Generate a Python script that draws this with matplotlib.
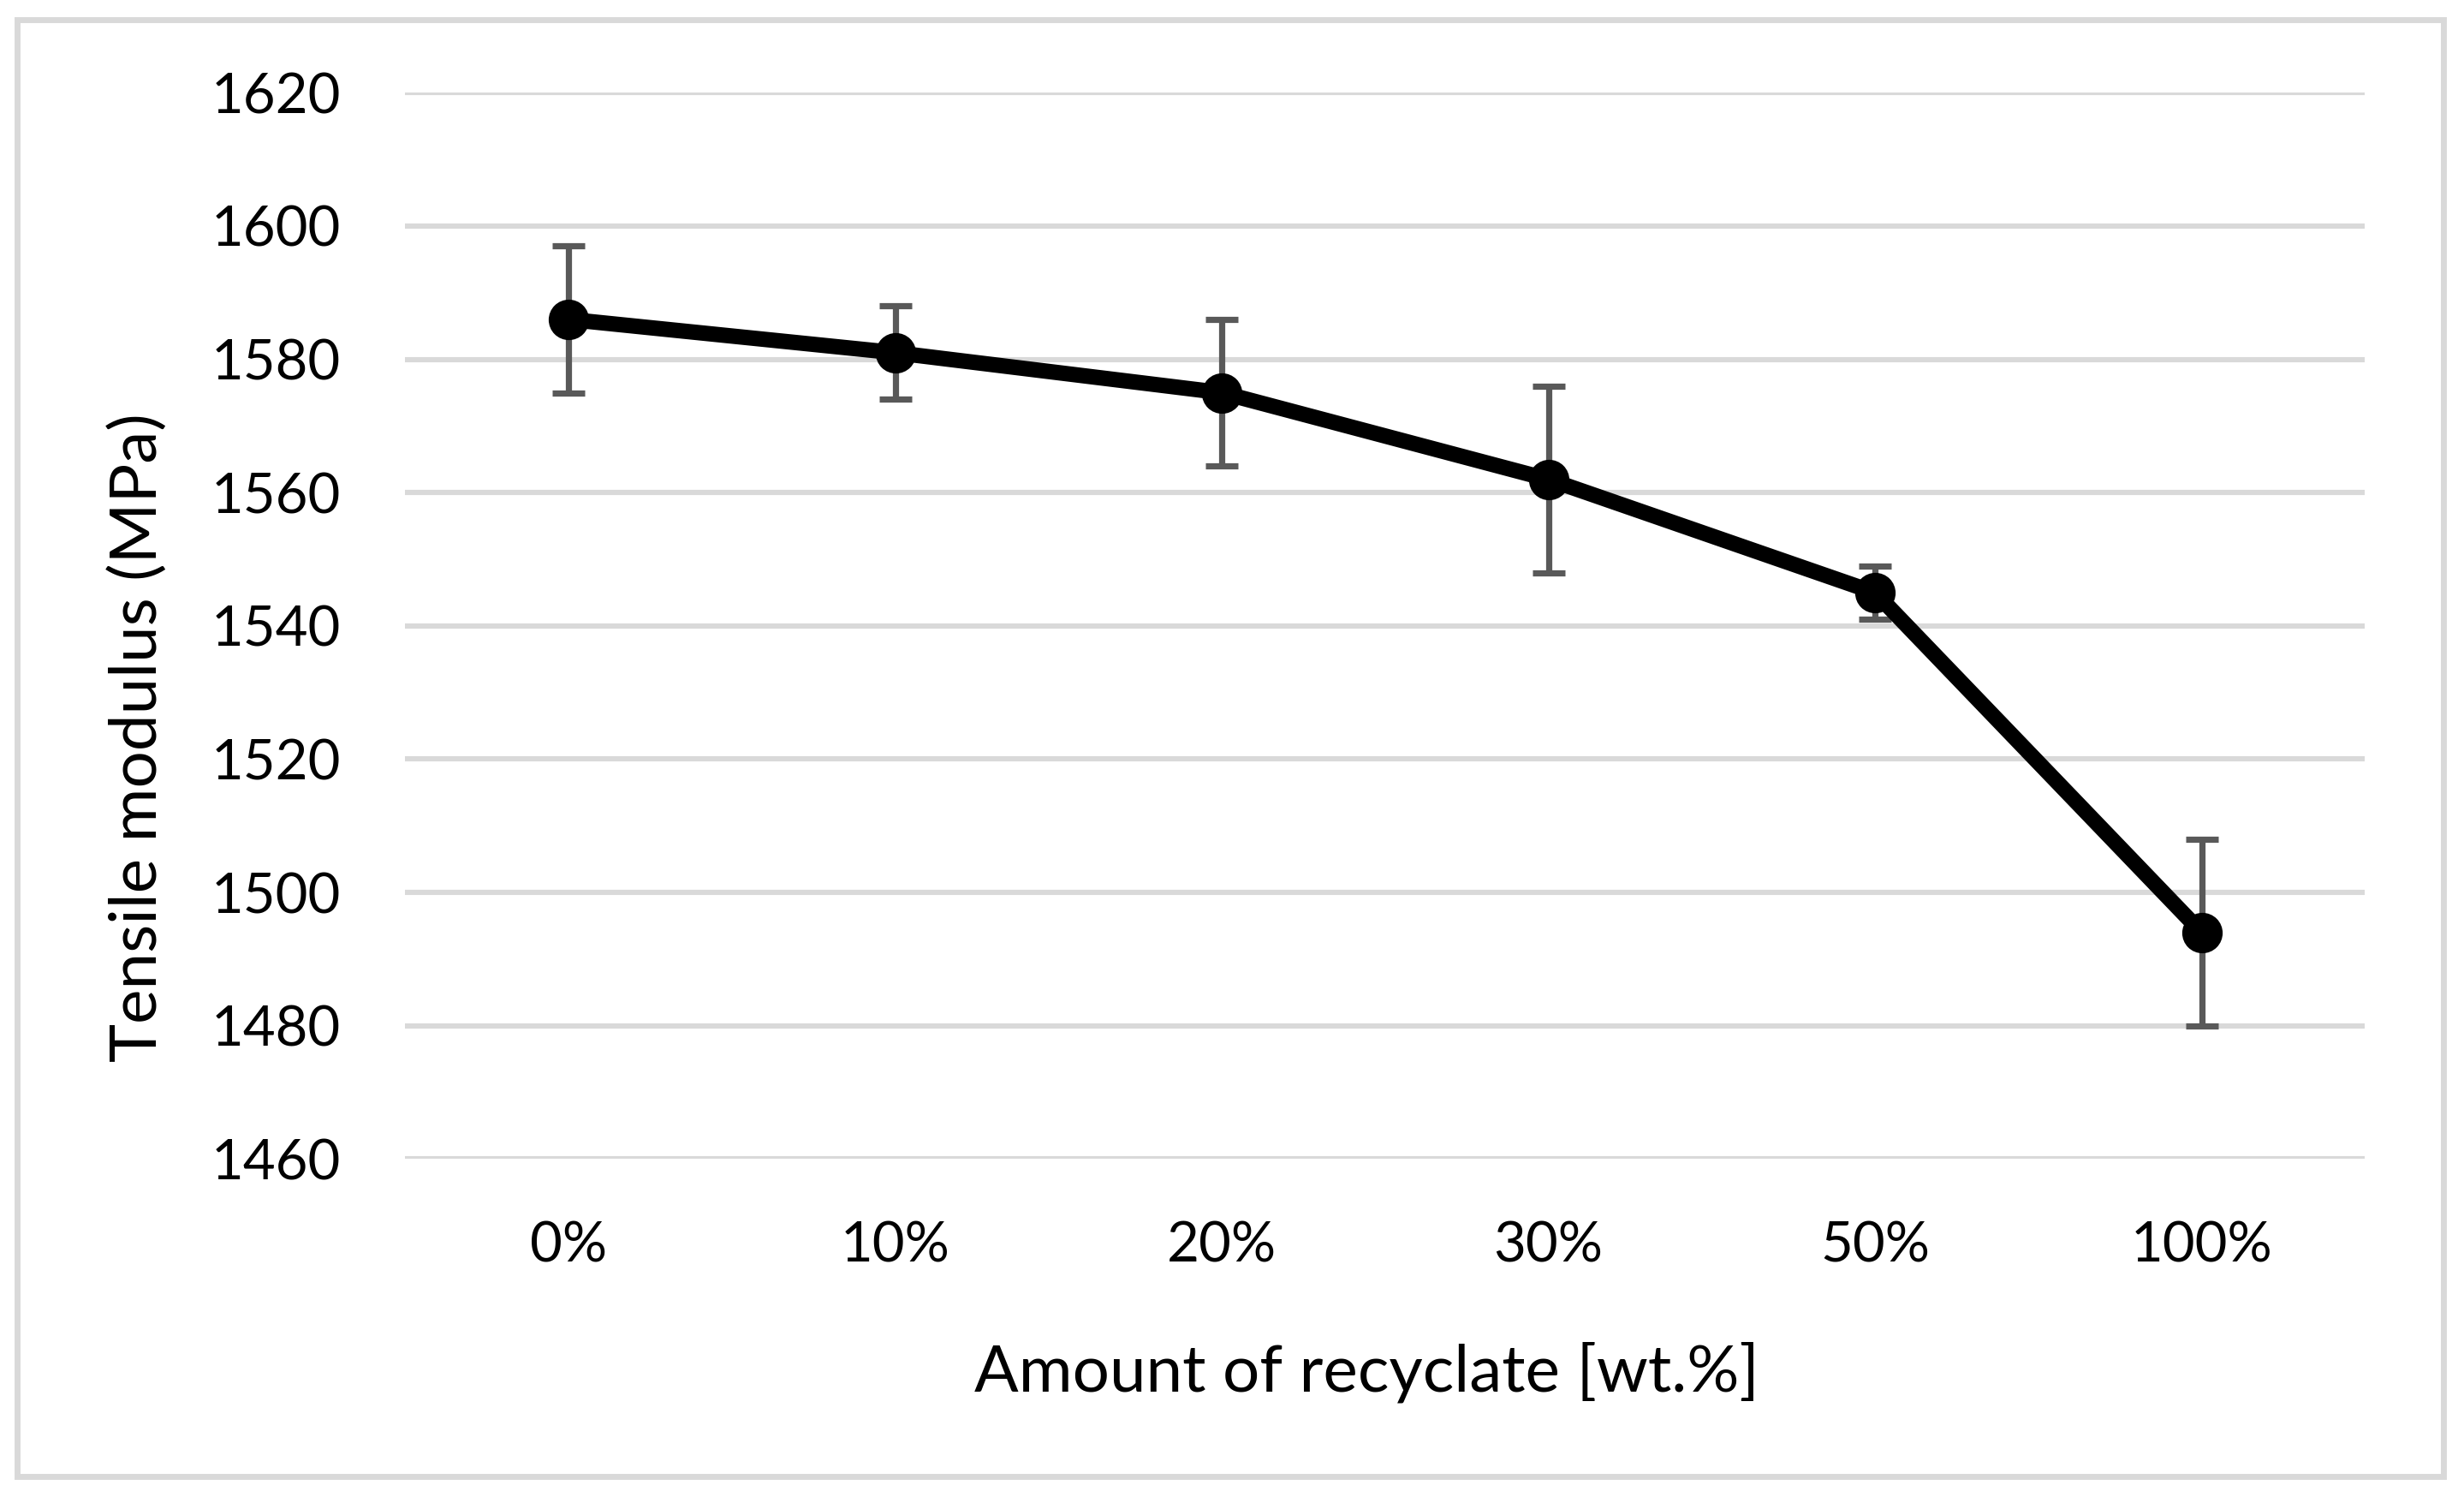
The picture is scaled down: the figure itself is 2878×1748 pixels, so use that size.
import matplotlib
matplotlib.use("Agg")
import matplotlib.pyplot as plt
from matplotlib.patches import Rectangle

categories = ["0%", "10%", "20%", "30%", "50%", "100%"]
modulus = [1586, 1581, 1575, 1562, 1545, 1494]
errors = [11, 7, 11, 14, 4, 14]
yticks = [1460, 1480, 1500, 1520, 1540, 1560, 1580, 1600, 1620]

plt.rcParams['font.family'] = ['Lato', 'DejaVu Sans']

W, H = 2878, 1748
dpi = 200
fig = plt.figure(figsize=(W / dpi, H / dpi), dpi=dpi)
fig.patch.set_facecolor('white')

# outer border
fig.patches.append(Rectangle((0.0071, 0.0137), 0.9846, 0.9729, transform=fig.transFigure,
                             fill=False, edgecolor='#d9d9d9', linewidth=2.5, zorder=0))

ax = fig.add_axes([0.1645, 0.2258, 0.9598 - 0.1645, 0.938 - 0.2258])
x = list(range(len(categories)))

ax.errorbar(x, modulus, yerr=errors, fmt='none', ecolor='#595959', elinewidth=2.6,
            capsize=7, capthick=2.6, zorder=3)
ax.plot(x, modulus, color='black', linewidth=6.5, marker='o', markersize=16,
        markerfacecolor='black', markeredgecolor='black', zorder=4)

ax.set_xlim(-0.5, len(categories) - 0.5)
ax.set_ylim(1460, 1620)
ax.set_yticks(yticks)
ax.set_xticks(x)
ax.set_xticklabels(categories)
ax.yaxis.grid(True, color='#d9d9d9', linewidth=2.2)
ax.set_axisbelow(True)
for s in ax.spines.values():
    s.set_visible(False)
ax.tick_params(axis='both', length=0, labelsize=23.5, colors='black')
ax.tick_params(axis='y', pad=27)
ax.tick_params(axis='x', pad=26)

fig.text(0.5546, 0.0704, "Amount of recyclate [wt.%]", ha='center', va='baseline', fontsize=27.5)
fig.text(0.0636, 0.5074, "Tensile modulus (MPa)", ha='center', va='baseline', rotation=90,
         rotation_mode='anchor', fontsize=27.5)

fig.savefig("out.png", dpi=dpi, facecolor='white')
